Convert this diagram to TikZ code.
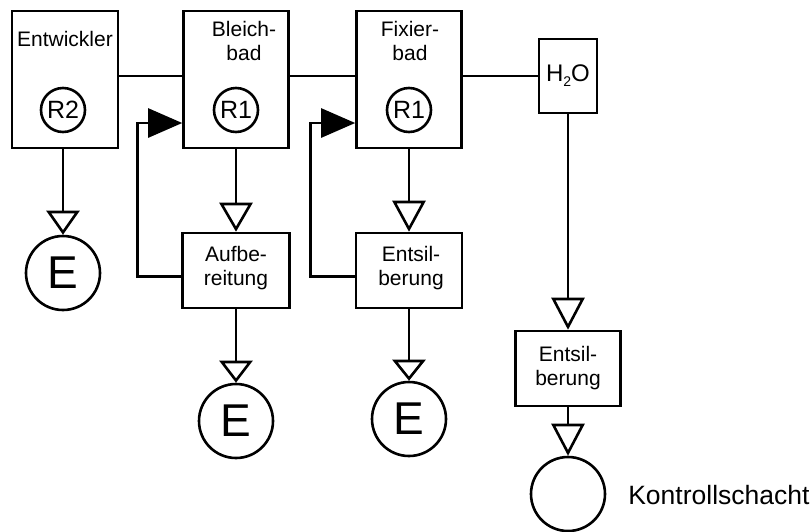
\documentclass[tikz,border=0pt]{standalone}
\usepackage{fontspec}
\setmainfont{Liberation Sans}
\usetikzlibrary{arrows.meta}
\begin{document}
\begin{tikzpicture}[x=1pt,y=-1pt,line width=2.6pt,
  tank/.style={draw, rectangle, inner sep=0pt},
  lbl/.style={align=center, inner sep=0pt, font=\fontsize{21}{24}\selectfont},
  pump/.style={draw, circle, minimum size=44pt, inner sep=0pt, font=\fontsize{25}{25}\selectfont},
  sink/.style={draw, circle, minimum size=74pt, inner sep=0pt, font=\fontsize{46}{46}\selectfont},
  hollow/.style={-{Triangle[open,length=#1,width=33pt]}},
  feed/.style={-{Triangle[length=34pt,width=29pt]}}]
\useasboundingbox (0,0) rectangle (811,531);

% process baths
\node[tank, minimum width=106pt, minimum height=137pt] (ent) at (65,79.5) {};
\node[tank, minimum width=105pt, minimum height=137pt] (blei) at (236,79.5) {};
\node[tank, minimum width=105pt, minimum height=137pt] (fix) at (409,79.5) {};
\node[tank, minimum width=58pt, minimum height=74pt, font=\fontsize{24}{24}\selectfont] (h2o) at (568,76)
  {H\raisebox{-5pt}{\fontsize{14}{14}\selectfont 2}O};

% bath labels
\node[lbl] (tEnt) at (65,39) {Entwickler};
\node[lbl] (tBlei) at (244,41) {Bleich-\\bad};
\node[lbl] (tFix) at (410,41) {Fixier-\\bad};

% circulation pumps
\node[pump] (r2) at (63,110) {R2};
\node[pump] (r1a) at (236,110) {R1};
\node[pump] (r1b) at (409,110) {R1};

% treatment units
\node[tank, minimum width=107pt, minimum height=75pt] (auf) at (236,270.5) {};
\node[lbl] (tAuf) at (236,268) {Aufbe-\\reitung};
\node[tank, minimum width=106pt, minimum height=75pt] (es1) at (409,270.5) {};
\node[lbl] (tEs1) at (411,268) {Entsil-\\berung};
\node[tank, minimum width=105pt, minimum height=75pt] (es2) at (568,368.5) {};
\node[lbl] (tEs2) at (568,368) {Entsil-\\berung};

% disposal and control shaft
\node[sink] (e1) at (63,273) {E};
\node[sink] (e2) at (236,421) {E};
\node[sink] (e3) at (409,419) {E};
\node[sink] (ks) at (568,494) {};
\node[anchor=west, inner sep=0pt, font=\fontsize{26.5}{26.5}\selectfont] (tKs) at (627,495) {Kontrollschacht};

% main line between the baths
\draw (ent.east |- h2o.west) -- (blei.west |- h2o.west);
\draw (blei.east |- h2o.west) -- (fix.west |- h2o.west);
\draw (fix.east |- h2o.west) -- (h2o.west);

% flows downwards
\draw[hollow=24pt] (ent.south -| e1) -- (e1);
\draw[hollow=29pt] (blei.south) -- (auf.north);
\draw[hollow=22pt] (auf.south) -- (e2);
\draw[hollow=31pt] (fix.south) -- (es1.north);
\draw[hollow=21pt] (es1.south) -- (e3);
\draw[hollow=32pt] (h2o.south) -- (es2.north);
\draw[hollow=32pt] (es2.south) -- (ks);

% return lines
\draw[feed] ([yshift=-6pt]auf.west) -- ++(-44,0) |- ([yshift=-43.5pt]blei.west);
\draw[feed] ([yshift=-6pt]es1.west) -- ++(-44,0) |- ([yshift=-43.5pt]fix.west);
\end{tikzpicture}
\end{document}
